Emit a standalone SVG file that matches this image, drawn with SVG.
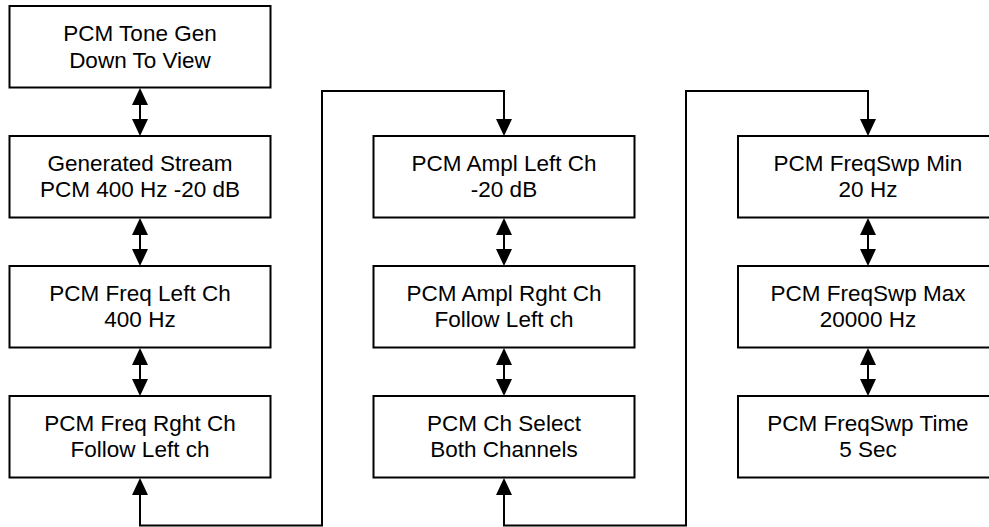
<svg xmlns="http://www.w3.org/2000/svg" width="989" height="527" viewBox="0 0 989 527">
<defs>
<style>
.box{fill:#fff;stroke:#000;stroke-width:2}
.t{font-family:"Liberation Sans",Arial,sans-serif;font-size:22.5px;fill:#000;text-anchor:middle}
.c{fill:none;stroke:#000;stroke-width:2}
</style>
<marker id="ah" viewBox="0 0 17 16" refX="7" refY="8" markerWidth="17" markerHeight="16" markerUnits="userSpaceOnUse" orient="auto-start-reverse">
<path d="M0,0 L17,8 L0,16 z" fill="#000"/>
</marker>
</defs>
<rect width="989" height="527" fill="#fff"/>
<g id="n1"><rect class="box" x="9.5" y="6" width="261" height="81.5"/><text class="t" x="140" y="41">PCM Tone Gen</text><text class="t" x="140" y="67.5">Down To View</text></g>
<g id="n2"><rect class="box" x="9.5" y="136" width="261" height="81.5"/><text class="t" x="140" y="170.5">Generated Stream</text><text class="t" x="140" y="197">PCM 400 Hz -20 dB</text></g>
<g id="n3"><rect class="box" x="9.5" y="266" width="261" height="81.5"/><text class="t" x="140" y="300.5">PCM Freq Left Ch</text><text class="t" x="140" y="327">400 Hz</text></g>
<g id="n4"><rect class="box" x="9.5" y="396" width="261" height="81.5"/><text class="t" x="140" y="430.5">PCM Freq Rght Ch</text><text class="t" x="140" y="457">Follow Left ch</text></g>
<g id="n5"><rect class="box" x="373.5" y="136" width="261" height="81.5"/><text class="t" x="504" y="170.5">PCM Ampl Left Ch</text><text class="t" x="504" y="197">-20 dB</text></g>
<g id="n6"><rect class="box" x="373.5" y="266" width="261" height="81.5"/><text class="t" x="504" y="300.5">PCM Ampl Rght Ch</text><text class="t" x="504" y="327">Follow Left ch</text></g>
<g id="n7"><rect class="box" x="373.5" y="396" width="261" height="81.5"/><text class="t" x="504" y="430.5">PCM Ch Select</text><text class="t" x="504" y="457">Both Channels</text></g>
<g id="n8"><rect class="box" x="738" y="136" width="261" height="81.5"/><text class="t" x="868" y="170.5">PCM FreqSwp Min</text><text class="t" x="868" y="197">20 Hz</text></g>
<g id="n9"><rect class="box" x="738" y="266" width="261" height="81.5"/><text class="t" x="868" y="300.5">PCM FreqSwp Max</text><text class="t" x="868" y="327">20000 Hz</text></g>
<g id="n10"><rect class="box" x="738" y="396" width="261" height="81.5"/><text class="t" x="868" y="430.5">PCM FreqSwp Time</text><text class="t" x="868" y="457">5 Sec</text></g>
<g id="connectors">
<line class="c" x1="140" y1="98" x2="140" y2="126" marker-start="url(#ah)" marker-end="url(#ah)"/>
<line class="c" x1="140" y1="228" x2="140" y2="256" marker-start="url(#ah)" marker-end="url(#ah)"/>
<line class="c" x1="140" y1="358" x2="140" y2="386" marker-start="url(#ah)" marker-end="url(#ah)"/>
<line class="c" x1="504" y1="228" x2="504" y2="256" marker-start="url(#ah)" marker-end="url(#ah)"/>
<line class="c" x1="504" y1="358" x2="504" y2="386" marker-start="url(#ah)" marker-end="url(#ah)"/>
<line class="c" x1="868" y1="228" x2="868" y2="256" marker-start="url(#ah)" marker-end="url(#ah)"/>
<line class="c" x1="868" y1="358" x2="868" y2="386" marker-start="url(#ah)" marker-end="url(#ah)"/>
<path class="c" d="M504,126 L504,91 L322,91 L322,525.5 L140,525.5 L140,488" marker-start="url(#ah)" marker-end="url(#ah)"/>
<path class="c" d="M868,126 L868,91 L686,91 L686,525.5 L504,525.5 L504,488" marker-start="url(#ah)" marker-end="url(#ah)"/>
</g>
</svg>
